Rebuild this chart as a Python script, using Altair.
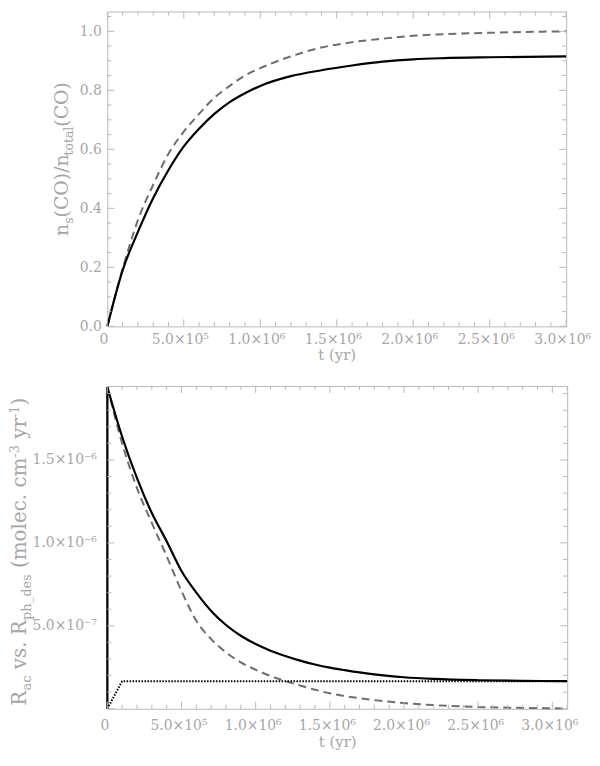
import altair as alt
import pandas as pd

# ---------------- data ----------------
top_t = [0, 1e5, 2e5, 3e5, 4e5, 5e5, 6e5, 7e5, 8e5, 9e5, 1.0e6, 1.2e6, 1.4e6, 1.6e6,
         1.8e6, 2.0e6, 2.2e6, 2.5e6, 3.0e6]
top_solid = [0.0, 0.19, 0.32, 0.435, 0.53, 0.61, 0.67, 0.72, 0.76, 0.79, 0.815, 0.848,
             0.868, 0.884, 0.897, 0.905, 0.909, 0.912, 0.915]
top_dashed = [0.0, 0.195, 0.36, 0.48, 0.585, 0.66, 0.72, 0.775, 0.815, 0.85, 0.875, 0.915,
              0.945, 0.963, 0.975, 0.985, 0.99, 0.995, 1.0]

bot_t = [0, 1e5, 2e5, 3e5, 4e5, 5e5, 6e5, 7e5, 8e5, 9e5, 1.0e6, 1.1e6, 1.2e6, 1.3e6,
         1.4e6, 1.5e6, 1.6e6, 1.8e6, 2.0e6, 2.2e6, 2.5e6, 2.8e6, 3.1e6]
# values in units of 1e-6 molec cm^-3 yr^-1
bot_solid = [1.94, 1.64, 1.39, 1.18, 1.01, 0.83, 0.70, 0.59, 0.505, 0.44, 0.39, 0.35,
             0.318, 0.29, 0.267, 0.248, 0.233, 0.207, 0.19, 0.18, 0.172, 0.168, 0.167]
bot_dashed = [1.94, 1.60, 1.33, 1.12, 0.92, 0.71, 0.53, 0.42, 0.34, 0.28, 0.235, 0.198,
              0.167, 0.14, 0.115, 0.093, 0.077, 0.052, 0.034, 0.022, 0.011, 0.005, 0.002]
dot_t = [0, 1e5, 3.1e6]
dot_v = [0.0, 0.166, 0.166]
# the solid rate curve starts with a jump at t = 0
jump_t = [0, 0]
jump_v = [0.0, 1.94]

x_major = [0, 5e5, 1e6, 1.5e6, 2e6, 2.5e6, 3e6]
x_labels = ["0", "5.0×10⁵", "1.0×10⁶", "1.5×10⁶", "2.0×10⁶", "2.5×10⁶", "3.0×10⁶"]
top_y_major = [0.0, 0.2, 0.4, 0.6, 0.8, 1.0]
bot_y_major = [5e-7, 1e-6, 1.5e-6]
bot_y_labels = ["5.0×10⁻⁷", "1.0×10⁻⁶", "1.5×10⁻⁶"]

# ---------------- style ----------------
FONT = "DejaVu Serif"
LBL = "#a6a6a6"
FRAME = "#b8b8b8"
TOPW, TOPH = 462, 317
BOTW, BOTH = 463, 325

DJ = {" ": .318, "(": .390, ")": .390, "/": .337, ".": .318, "_": .500, "-": .338,
      "R": .770, "C": .734, "O": .787, "a": .596, "c": .560, "d": .640, "e": .592,
      "h": .644, "l": .320, "m": .948, "n": .644, "o": .602, "p": .640, "r": .478,
      "s": .513, "t": .402, "v": .565, "y": .565, "3": .636, "1": .636}

one = pd.DataFrame({"a": [0]})


def label_expr(vals, labels):
    expr = "''"
    for v, l in reversed(list(zip(vals, labels))):
        tol = abs(v) * 1e-3 + 1e-30
        expr = f"abs(datum.value - ({v})) < {tol} ? '{l}' : ({expr})"
    return expr


def tw(s, size):
    return sum(DJ.get(c, 0.6) for c in s) * size


def title_layers(pieces, y_start, base_x, main_size, sub_size, sub_dx, sup_dx):
    out = []
    off = 0.0
    for txt, kind in pieces:
        size = main_size if kind == "main" else sub_size
        lead = len(txt) - len(txt.lstrip(" "))
        off += lead * DJ[" "] * size
        body = txt.strip(" ")
        x = base_x + (sub_dx if kind == "sub" else (-sup_dx if kind == "sup" else 0))
        out.append(
            alt.Chart(one).mark_text(angle=270, align="left", baseline="alphabetic",
                                     font=FONT, fontSize=size, color=LBL)
            .encode(x=alt.value(x), y=alt.value(y_start - off), text=alt.value(body))
        )
        off += tw(body, size)
    return out


def tick_layers(X, Y, xmaj, xmin, ymaj, ymin, W, H):
    out = []
    for vals, L in ((xmaj, 7), (xmin, 4)):
        df = pd.DataFrame({"v": vals})
        base = alt.Chart(df).mark_rule(color=FRAME, strokeWidth=1)
        out.append(base.encode(x=X("v"), y=alt.value(H), y2=alt.value(H - L)))
        out.append(base.encode(x=X("v"), y=alt.value(0), y2=alt.value(L)))
    for vals, L in ((ymaj, 7), (ymin, 4)):
        df = pd.DataFrame({"v": vals})
        base = alt.Chart(df).mark_rule(color=FRAME, strokeWidth=1)
        out.append(base.encode(y=Y("v"), x=alt.value(0), x2=alt.value(L)))
        out.append(base.encode(y=Y("v"), x=alt.value(W), x2=alt.value(W - L)))
    return out


def axis_x(pad, tpad, loff):
    return alt.Axis(values=x_major, labelExpr=label_expr(x_major, x_labels), title="t  (yr)",
                    labelPadding=pad, titlePadding=tpad, labelOffset=loff, domain=False,
                    ticks=False, grid=False, labelFlush=False, labelOverlap=False,
                    labelFont=FONT, labelFontSize=14, labelColor=LBL, titleFont=FONT,
                    titleFontSize=15, titleFontWeight="normal", titleColor=LBL)


# ---------------- top panel ----------------
def TX(f):
    return alt.X(f, type="quantitative", scale=alt.Scale(domain=[0, 3.0e6], nice=False, zero=False),
                 axis=axis_x(6, 1, -4))


def TY(f):
    return alt.Y(f, type="quantitative", scale=alt.Scale(domain=[0, 1.067], nice=False, zero=False),
                 axis=alt.Axis(values=top_y_major, format=".1f", title=None, labelPadding=6,
                               domain=False, ticks=False, grid=False, labelFont=FONT,
                               labelFontSize=14, labelColor=LBL, labelFlush=False))


top_df = pd.DataFrame({"t": top_t, "solid": top_solid, "dashed": top_dashed,
                       "i": list(range(len(top_t)))})
top_layers = [
    alt.Chart(top_df).mark_line(color="#6e6e6e", strokeWidth=2, strokeDash=[8, 5],
                                interpolate="monotone")
    .encode(x=TX("t"), y=TY("dashed"), order="i:Q"),
    alt.Chart(top_df).mark_line(color="black", strokeWidth=2.2, interpolate="monotone")
    .encode(x=TX("t"), y=TY("solid"), order="i:Q"),
]
top_xmin = [k * 1e5 for k in range(31) if k % 5]
top_ymin = [k * 0.05 for k in range(22) if k % 4]
top_layers += tick_layers(TX, TY, x_major, top_xmin, top_y_major, top_ymin, TOPW, TOPH)
top_layers += title_layers(
    [("n", "main"), ("s", "sub"), ("(CO)/n", "main"), ("total", "sub"), ("(CO)", "main")],
    226, -40, 19, 12.5, 5, 6)
top = alt.layer(*top_layers).properties(width=TOPW, height=TOPH)


# ---------------- bottom panel ----------------
def BX(f):
    return alt.X(f, type="quantitative", scale=alt.Scale(domain=[0, 3.1e6], nice=False, zero=False),
                 axis=axis_x(10, 2, -3))


def BY(f):
    return alt.Y(f, type="quantitative", scale=alt.Scale(domain=[0, 1.946e-6], nice=False, zero=False),
                 axis=alt.Axis(values=bot_y_major, labelExpr=label_expr(bot_y_major, bot_y_labels),
                               title=None, labelPadding=11, domain=False, ticks=False, grid=False,
                               labelFont=FONT, labelFontSize=14, labelColor=LBL, labelFlush=False))


solid_df = pd.DataFrame({"t": bot_t, "v": [v * 1e-6 for v in bot_solid]})
dashed_df = pd.DataFrame({"t": bot_t, "v": [v * 1e-6 for v in bot_dashed]})
dot_df = pd.DataFrame({"t": dot_t, "v": [v * 1e-6 for v in dot_v]})
jump_df = pd.DataFrame({"t": jump_t, "v": [v * 1e-6 for v in jump_v]})
for d in (solid_df, dashed_df, dot_df, jump_df):
    d["i"] = range(len(d))

bot_layers = [
    alt.Chart(dashed_df).mark_line(color="#6e6e6e", strokeWidth=2, strokeDash=[8, 5],
                                   interpolate="monotone")
    .encode(x=BX("t"), y=BY("v"), order="i:Q"),
    alt.Chart(dot_df).mark_line(color="black", strokeWidth=2, strokeDash=[1.5, 1.5])
    .encode(x=BX("t"), y=BY("v"), order="i:Q"),
    alt.Chart(jump_df).mark_line(color="black", strokeWidth=2.2)
    .encode(x=BX("t"), y=BY("v"), order="i:Q"),
    alt.Chart(solid_df).mark_line(color="black", strokeWidth=2.2, interpolate="monotone")
    .encode(x=BX("t"), y=BY("v"), order="i:Q"),
]
bot_xmin = [k * 1e5 for k in range(32) if k % 5]
bot_ymin = [k * 1e-7 for k in range(20) if k % 5]
bot_layers += tick_layers(BX, BY, x_major, bot_xmin, [0] + bot_y_major, bot_ymin, BOTW, BOTH)
bot_layers += title_layers(
    [("R", "main"), ("ac", "sub"), (" vs. R", "main"), ("ph_des", "sub"),
     (" (molec. cm", "main"), ("-3", "sup"), (" yr", "main"), ("-1", "sup"), (")", "main")],
    322, -82, 20, 13, 5, 7)
bottom = alt.layer(*bot_layers).properties(width=BOTW, height=BOTH)

chart = alt.vconcat(top, bottom, spacing=19).properties(
    padding=0
).configure(padding=0).configure_view(stroke=FRAME, strokeWidth=1)

chart.save("out.html", embed_options={"renderer": "svg", "actions": False})
